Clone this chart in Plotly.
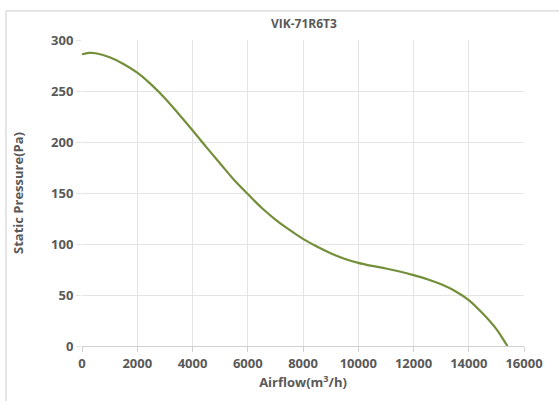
import plotly.graph_objects as go

airflow = [0, 250, 500, 1000, 1500, 2000, 2500, 3000, 3500, 4000, 4500, 5000,
           5500, 6000, 6500, 7000, 7500, 8000, 8500, 9000, 9500, 10000,
           10500, 11000, 11500, 12000, 12500, 13000, 13500, 14000, 14500,
           15000, 15200, 15400]
pressure = [286, 287.3, 287, 283, 276.5, 268, 256.5, 243, 227.5, 211.5,
            195, 179, 163, 149, 135.5, 124, 114, 105, 97.5, 91, 85.5, 81.5,
            78.5, 76, 73, 69.5, 65.5, 60.5, 54, 45, 32, 16.5, 8.5, 0]

x_ticks = [0, 2000, 4000, 6000, 8000, 10000, 12000, 14000, 16000]
y_ticks = [0, 50, 100, 150, 200, 250, 300]

title_text = "VIK-71R6T3"
x_title = "Airflow(m<sup>3</sup>/h)"
y_title = "Static Pressure(Pa)"

font_family = "Open Sans, Liberation Sans, sans-serif"
text_color = "#595959"

fig = go.Figure()
fig.add_trace(go.Scatter(
    x=airflow, y=pressure, mode="lines",
    line=dict(color="#748F3A", width=2.2, shape="spline", smoothing=1.0),
    hoverinfo="x+y", showlegend=False,
))

fig.update_layout(
    width=559, height=401,
    margin=dict(l=82, r=35, t=40, b=55, autoexpand=False),
    paper_bgcolor="white", plot_bgcolor="white",
    font=dict(family=font_family, color=text_color, size=13),
    title=dict(text="<b>" + title_text + "</b>", x=0.502, xref="paper",
               y=1 - 24 / 401, yref="container", xanchor="center",
               yanchor="middle", font=dict(size=12, color=text_color)),
    xaxis=dict(range=[0, 16000], tickvals=x_ticks,
               ticktext=["<b>%d</b>" % v for v in x_ticks],
               showgrid=True, gridcolor="#e4e4e4", gridwidth=1,
               showline=True, linecolor="#cfcfcf", linewidth=1,
               ticks="outside", ticklen=5, tickcolor="#cfcfcf",
               zeroline=False, tickfont=dict(size=13), automargin=False,
               title=dict(text="<b>" + x_title + "</b>", standoff=6,
                          font=dict(size=13))),
    yaxis=dict(range=[0, 300], tickvals=y_ticks,
               ticktext=["<b>%d</b>" % v for v in y_ticks],
               showgrid=True, gridcolor="#e4e4e4", gridwidth=1,
               showline=False, ticks="outside", ticklen=5,
               tickcolor="#e4e4e4", zeroline=False,
               tickfont=dict(size=13), automargin=False,
               title=dict(text="<b>" + y_title + "</b>", standoff=24,
                          font=dict(size=13))),
    shapes=[
        dict(type="line", xref="paper", yref="paper",
             x0=-0.172, x1=1.2, y0=1.095, y1=1.095,
             line=dict(color="#cccccc", width=1)),
        dict(type="line", xref="paper", yref="paper",
             x0=-0.172, x1=-0.172, y0=-0.2, y1=1.095,
             line=dict(color="#cccccc", width=1)),
    ],
)

fig.write_html("out.html", config={"displayModeBar": False},
               post_script="document.body.style.margin='0';")
